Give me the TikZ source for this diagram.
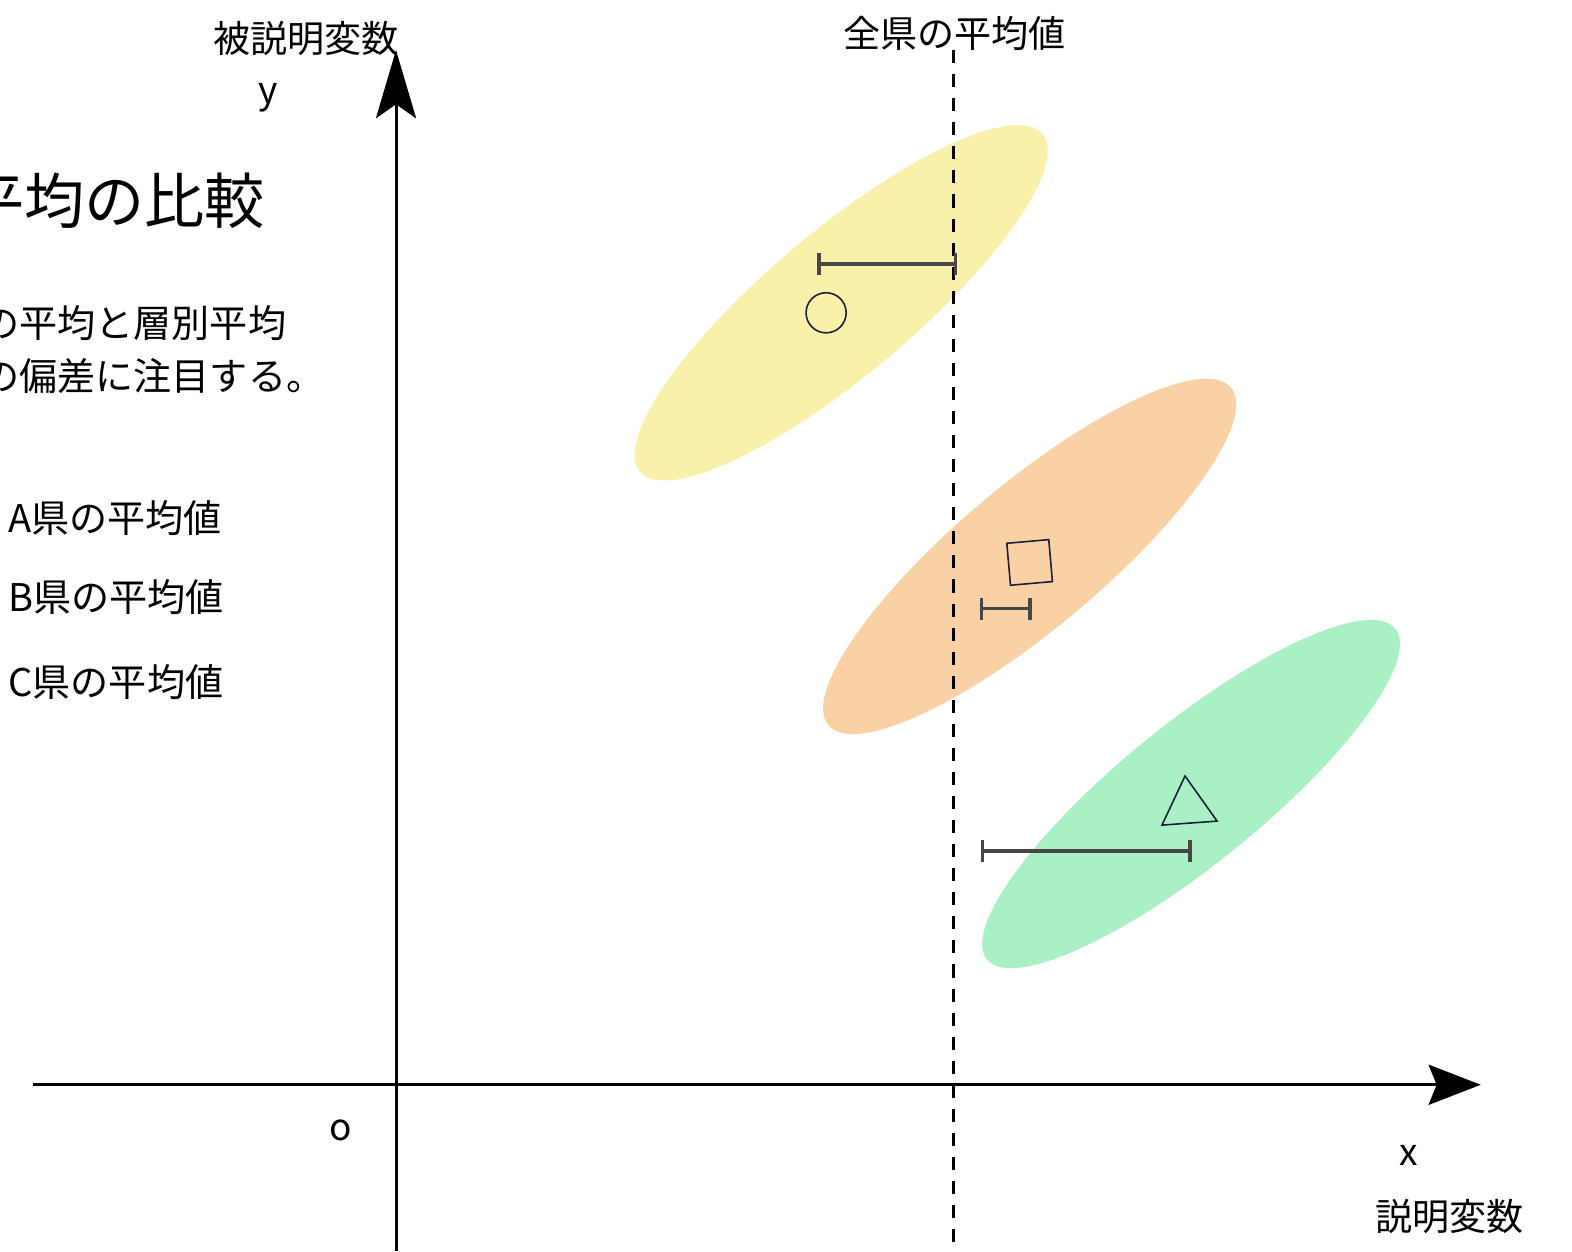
\documentclass[tikz,border=0pt]{standalone}
\usepackage{fontspec}
\setmainfont{Noto Sans CJK JP}
\usetikzlibrary{arrows.meta}
\definecolor{yellowfill}{RGB}{249,240,170}
\definecolor{orangefill}{RGB}{250,209,165}
\definecolor{greenfill}{RGB}{170,240,197}
\definecolor{markc}{RGB}{28,32,60}
\begin{document}
\begin{tikzpicture}[x=0.5pt,y=-0.5pt]
\tikzset{
  axisline/.style={line width=1.5pt, draw=black},
  meanline/.style={line width=1.25pt, draw=black, dash pattern=on 6.5pt off 5.5pt},
  errbar/.style={line width=1.9pt, draw=black!72, {Bar[width=11pt]}-{Bar[width=11pt]}},
  marker/.style={line width=0.8pt, draw=markc},
  lbl/.style={inner sep=0pt, font=\fontsize{18.5}{22}\selectfont},
  body/.style={inner sep=0pt, anchor=west, font=\fontsize{19}{23}\selectfont},
}
\useasboundingbox[fill=white] (0,0) rectangle (1568,1248);

% clusters
\fill[yellowfill, rotate around={40:(839,302)}] (839,302) ellipse [x radius=262, y radius=72];
\fill[orangefill, rotate around={40:(1027,555)}] (1027,555) ellipse [x radius=262, y radius=72];
\fill[greenfill, rotate around={39:(1188,792)}] (1188,792) ellipse [x radius=262, y radius=70];

% axes
\coordinate (yb) at (395,1248);
\coordinate (yt) at (395,50);
\coordinate (xl) at (33,1082);
\coordinate (xr) at (1477,1082);
\draw[axisline, -{Stealth[length=34pt, width=20pt, inset=7pt]}] (yb) -- (yt);
\draw[axisline, -{Stealth[length=26pt, width=20pt, inset=4pt]}] (xl) -- (xr);

% overall mean line
\coordinate (mt) at (951,50);
\coordinate (mb) at (951,1240);
\draw[meanline] (mt) -- (mb);

% error bars
\coordinate (a1) at (815,263); \coordinate (a2) at (955,263);
\coordinate (b1) at (977,607); \coordinate (b2) at (1029,607);
\coordinate (c1) at (978,849); \coordinate (c2) at (1189,849);
\draw[errbar] (a1) -- (a2);
\draw[errbar] (b1) -- (b2);
\draw[errbar] (c1) -- (c2);

% markers
\draw[marker] (824,312) circle [radius=20];
\draw[marker, rotate around={5:(1027,561)}] (1006,540) rectangle (1048,582);
\draw[marker] (1182,774) -- (1159,823) -- (1214,819) -- cycle;

% labels
\node[lbl] (ylab) at (305,38) {被説明変数};
\node[lbl] (ysym) at (267,98) {y};
\node[lbl] (mlab) at (952,33) {全県の平均値};
\node[lbl] (orig) at (340,1128) {o};
\node[lbl] (xsym) at (1405,1152) {x};
\node[lbl] (xlab) at (1446,1213) {説明変数};

\node[inner sep=0pt, anchor=west, font=\fontsize{30}{36}\selectfont] (title) at (-36,200) {平均の比較};
\node[body] (l1) at (-19,322) {の平均と層別平均};
\node[body] (l2) at (-19,375) {の偏差に注目する。};
\node[body] (la) at (8,517) {A県の平均値};
\node[body] (lb) at (8,596) {B県の平均値};
\node[body] (lc) at (8,680) {C県の平均値};
\end{tikzpicture}
\end{document}
